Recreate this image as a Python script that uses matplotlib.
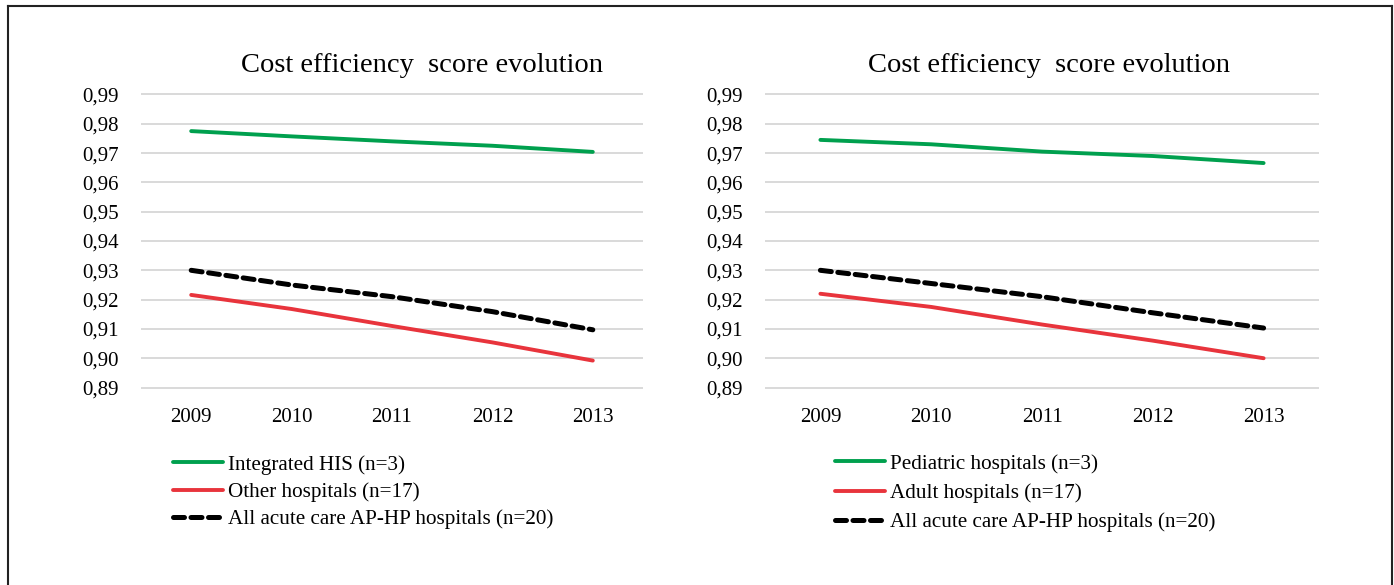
import matplotlib
matplotlib.use("Agg")
import matplotlib.pyplot as plt
from matplotlib.lines import Line2D
import numpy as np

years = ["2009", "2010", "2011", "2012", "2013"]
y_ticks = [0.89, 0.90, 0.91, 0.92, 0.93, 0.94, 0.95, 0.96, 0.97, 0.98, 0.99]

# left panel
integrated_his = [0.9775, 0.9757, 0.9740, 0.9725, 0.9704]
other_hosp = [0.9216, 0.9168, 0.9110, 0.9054, 0.8992]
all_acute_left = [0.9300, 0.9250, 0.9210, 0.9159, 0.9097]

# right panel
pediatric = [0.9745, 0.9730, 0.9705, 0.9690, 0.9666]
adult = [0.9220, 0.9175, 0.9115, 0.9060, 0.9000]
all_acute_right = [0.9300, 0.9255, 0.9210, 0.9155, 0.9103]

GREEN = "#00A04E"
RED = "#E8343C"
SERIF = "Liberation Serif"
W, H = 1394, 585

fig = plt.figure(figsize=(W / 100, H / 100), dpi=100)
fig.patch.set_facecolor("white")

# outer frame (left, top, right; bottom is cut off)
fx0, fx1, fy = 8 / W, 1392 / W, 1 - 6 / H
for xs, ys in [([fx0, fx0], [-0.05, fy]), ([fx0, fx1], [fy, fy]), ([fx1, fx1], [fy, -0.05])]:
    fig.add_artist(Line2D(xs, ys, color="#222222", lw=1.5, transform=fig.transFigure))


def panel(px0, px1, series, labels, title_x, leg_x, leg_y, leg_spacing):
    ax = fig.add_axes([px0 / W, 1 - 389 / H, (px1 - px0) / W, 296 / H])
    x = np.arange(len(years))
    colors = [GREEN, RED, "black"]
    for vals, lab, c in zip(series, labels, colors):
        if c == "black":
            ax.plot(x, vals, color=c, lw=3.6, ls=(0, (2.2, 1.3)), label=lab,
                    solid_capstyle="round", dash_capstyle="round")
        else:
            ax.plot(x, vals, color=c, lw=2.8, label=lab, solid_capstyle="round")
    ax.set_xlim(-0.5, len(years) - 0.5)
    ax.set_ylim(0.8895, 0.9905)
    ax.set_yticks(y_ticks)
    ax.set_yticklabels([f"{v:.2f}".replace(".", ",") for v in y_ticks])
    ax.set_xticks(x)
    ax.set_xticklabels(years)
    ax.grid(axis="y", color="#D9D9D9", lw=1.4)
    ax.set_axisbelow(True)
    for s in ax.spines.values():
        s.set_visible(False)
    ax.tick_params(axis="both", length=0, labelsize=15)
    ax.tick_params(axis="y", pad=16)
    ax.tick_params(axis="x", pad=14)
    for t in ax.get_xticklabels() + ax.get_yticklabels():
        t.set_family(SERIF)
    fig.text(title_x / W, 1 - 65 / H, "Cost efficiency  score evolution",
             ha="center", va="center", fontsize=20.5, family=SERIF)
    fig.legend(handles=ax.get_lines(), loc="upper left",
               bbox_to_anchor=(leg_x / W, 1 - leg_y / H), frameon=False,
               prop={"family": SERIF, "size": 15.2}, handlelength=2.35,
               handletextpad=0.25, labelspacing=leg_spacing, borderpad=0,
               borderaxespad=0)
    return ax


panel(141, 643, [integrated_his, other_hosp, all_acute_left],
      ["Integrated HIS (n=3)", "Other hospitals (n=17)",
       "All acute care AP-HP hospitals (n=20)"],
      422, 173, 455, 0.35)
panel(765, 1319, [pediatric, adult, all_acute_right],
      ["Pediatric hospitals (n=3)", "Adult hospitals (n=17)",
       "All acute care AP-HP hospitals (n=20)"],
      1049, 835, 454, 0.45)

fig.savefig("out.png", dpi=100)
